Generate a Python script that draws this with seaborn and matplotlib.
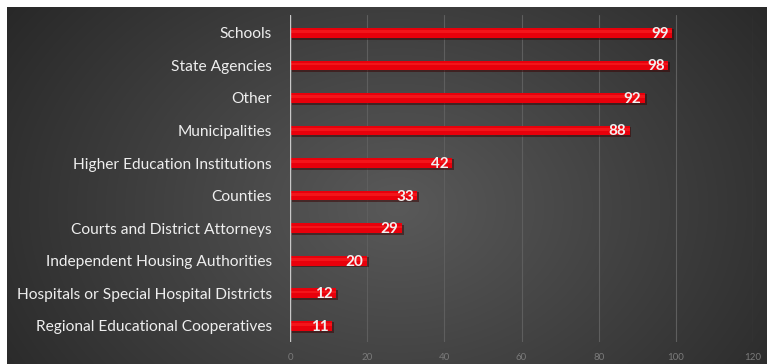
import numpy as np
import pandas as pd
import matplotlib
matplotlib.use("Agg")
import matplotlib.pyplot as plt
import seaborn as sns

categories = ["Schools", "State Agencies", "Other", "Municipalities",
              "Higher Education Institutions", "Counties",
              "Courts and District Attorneys", "Independent Housing Authorities",
              "Hospitals or Special Hospital Districts",
              "Regional Educational Cooperatives"]
values = [99, 98, 92, 88, 42, 33, 29, 20, 12, 11]
xticks = [0, 20, 40, 60, 80, 100, 120]

df = pd.DataFrame({"cat": categories, "val": values})

sns.set_theme(style="white")
plt.rcParams['font.family'] = ['Lato', 'DejaVu Sans']
plt.rcParams['patch.force_edgecolor'] = False

W, H = 767, 364
fig = plt.figure(figsize=(W / 100, H / 100), dpi=100)
fig.patch.set_facecolor("white")

# background panel with radial gradient
bg = fig.add_axes([7 / W, 0, 1 - 7 / W, 1 - 7 / H])
bg.set_axis_off()
yy, xx = np.mgrid[0:357, 0:760]
cx, cy = 390, 200
d = np.sqrt(((xx - cx) / 430.0) ** 2 + ((yy - cy) / 320.0) ** 2)
lum = 0.35 - 0.21 * np.clip(d, 0, 1.2) / 1.2
img = np.dstack([lum, lum, lum])
bg.imshow(img, aspect="auto", extent=[0, 1, 0, 1], origin="upper")
bg.set_xlim(0, 1)
bg.set_ylim(0, 1)

ax = fig.add_axes([290 / W, 1 - 342 / H, (753 - 290) / W, (342 - 15) / H])
ax.patch.set_alpha(0)

# shadow bars
ax.barh(np.arange(len(values)) + 0.05, values, height=0.32,
        color="#3a0000", alpha=0.5, zorder=2, left=0.5, linewidth=0,
        edgecolor="none")
sns.barplot(data=df, x="val", y="cat", orient="h", color="#e8000b",
            saturation=1, width=0.30, ax=ax, zorder=3, linewidth=0,
            edgecolor="none")
# subtle highlight
ax.barh(np.arange(len(values)) - 0.04, values, height=0.08,
        color="#ff2a2a", alpha=0.5, zorder=4, linewidth=0, edgecolor="none")

for i, v in enumerate(values):
    ax.text(v - 0.9, i + 0.03, str(v), ha="right", va="center",
            color="#f0f0f0", fontsize=11, fontweight="bold", zorder=5)

ax.set_xlim(0, 120)
ax.set_ylim(9.5, -0.55)
ax.set_xticks(xticks)
ax.set_xticklabels([str(t) for t in xticks], color="#7a7a7a", fontsize=7)
ax.tick_params(axis="x", length=0, pad=8)
ax.tick_params(axis="y", length=0, pad=13)
for lab in ax.get_yticklabels():
    lab.set_color("#eeeeee")
    lab.set_fontsize(11.2)
ax.set_xlabel("")
ax.set_ylabel("")
for s in ax.spines.values():
    s.set_visible(False)
ax.grid(False)
for t in xticks[1:]:
    ax.axvline(t, color="#5e5e5e", lw=0.8, zorder=1)
ax.axvline(0, color="#c8c8c8", lw=1.0, zorder=6)

fig.savefig("out.png", dpi=100)
